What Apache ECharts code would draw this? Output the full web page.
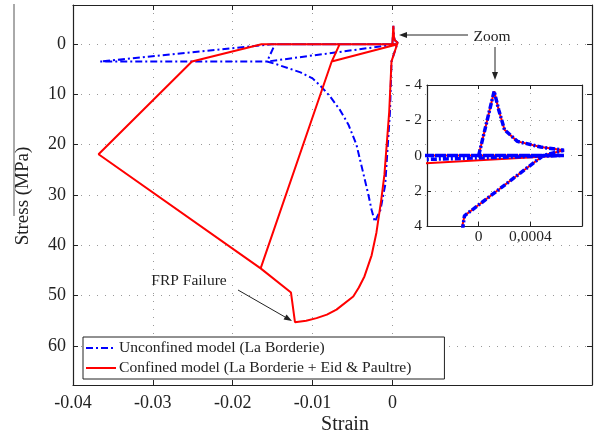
<!DOCTYPE html>
<html>
<head>
<meta charset="UTF-8">
<title>stress_strain</title>
<script src="https://cdn.jsdelivr.net/npm/echarts@6/dist/echarts.min.js"></script>
<style>
  html, body { margin: 0; padding: 0; background: #fff; }
  #main { width: 596px; height: 439px; }
</style>
</head>
<body>
<div id="main"></div>
<script>
// values (strain, stress in MPa, compression positive / downward)
var unconfinedStrain = [0, 0.00012, 0.000155, 0.0002, 0.0003, 0.00048, 0.00066, 0.0005, -0.00011, -0.0003, -0.0009, -0.0015, -0.0022,
  -0.0026, -0.003, -0.0037, -0.0045, -0.0055, -0.0066, -0.0078, -0.009, -0.01, -0.0115, -0.013, -0.0145, -0.0157,
  -0.0147, 0.00066, -0.0157, -0.0366, -0.0151, 0.00066];
var unconfinedStress = [0, -3.65, -2.6, -1.46, -0.8, -0.48, -0.3, 0, 3.42, 13.5, 28, 33, 35.3,
  33, 30, 25.3, 20, 16, 13, 10.4, 8.3, 6.8, 5.6, 4.8, 4.0, 3.45,
  0, 0, 3.45, 3.45, 0, 0];

var confinedStrain = [0, 0.00012, 0.000155, 0.0002, 0.0003, 0.00048, 0.00066, 0.0005, -0.00011, -0.0004, -0.001, -0.0014, -0.002,
  -0.0026, -0.0035, -0.0042, -0.0049, -0.007, -0.0082, -0.0095, -0.0108, -0.0122, -0.0127, -0.0165,
  -0.0076, -0.0066, 0.00066, -0.0076, -0.0165, -0.0368, -0.0251, -0.0164, 0.00066];
var confinedStress = [0, -3.65, -2.6, -1.46, -0.8, -0.48, -0.3, 0, 3.42, 13.5, 26, 31, 37.5,
  42, 46.2, 48.4, 50.2, 52.8, 53.8, 54.5, 55.0, 55.3, 49.4, 44.6,
  3.45, 0, 0, 3.45, 44.6, 21.9, 3.45, 0, 0];

var xTicks = [-0.04, -0.03, -0.02, -0.01, 0];
var yTicks = [0, 10, 20, 30, 40, 50, 60];
var insetXTicks = [0, 0.0004];
var insetXLabels = ['0', '0,0004'];
var insetYTicks = [-4, -2, 0, 2, 4];

var names = ['Unconfined model (La Borderie)', 'Confined model (La Borderie + Eid & Paultre)'];

function pairs(xs, ys) {
  return xs.map(function (x, i) { return [x, ys[i]]; });
}
var unconfined = pairs(unconfinedStrain, unconfinedStress);
var confined = pairs(confinedStrain, confinedStress);

var serif = '"Liberation Serif", "DejaVu Serif", serif';
var ink = '#222';
var dots = { color: '#999', type: [1, 7], width: 1 };

function tickAxis(extra) {
  var base = {
    axisLine: { onZero: false, lineStyle: { color: ink, width: 1.2 } },
    axisTick: { inside: true, length: 5, lineStyle: { color: ink } },
    axisLabel: { show: false },
    splitLine: { show: false }
  };
  return Object.assign(base, extra);
}

var myChart = echarts.init(document.getElementById('main'));

function arrow(x1, y1, x2, y2) {
  var a = Math.atan2(y2 - y1, x2 - x1), L = 8, W = 3;
  var bx = x2 - L * Math.cos(a), by = y2 - L * Math.sin(a);
  return [
    { type: 'line', z: 20, shape: { x1: x1, y1: y1, x2: bx, y2: by }, style: { stroke: ink, lineWidth: 1 } },
    { type: 'polygon', z: 20, shape: { points: [[x2, y2],
        [bx + W * Math.sin(a), by - W * Math.cos(a)],
        [bx - W * Math.sin(a), by + W * Math.cos(a)]] }, style: { fill: ink } }
  ];
}

var option = {
  animation: false,
  backgroundColor: '#fff',
  textStyle: { fontFamily: serif },
  grid: [
    { left: 73, top: 5, width: 519, height: 380, show: false },
    { left: 427, top: 85, width: 155, height: 141, show: true, backgroundColor: '#fff', borderWidth: 0, z: 1 }
  ],
  legend: {
    data: names,
    orient: 'vertical',
    left: 83, top: 337,
    padding: [3, 33, 3, 2],
    itemGap: 4,
    itemWidth: 30, itemHeight: 16,
    itemStyle: { opacity: 0 },
    backgroundColor: '#fff',
    borderColor: ink, borderWidth: 1, borderRadius: 0,
    textStyle: { fontFamily: serif, fontSize: 15.6, color: ink, padding: [0, 0, 0, -2] },
    z: 10
  },
  xAxis: [
    tickAxis({
      type: 'value', gridIndex: 0, position: 'bottom', min: -0.04, max: 0.025,
      axisTick: { inside: true, length: 5, lineStyle: { color: ink }, customValues: xTicks },
      axisLabel: { show: true, customValues: xTicks, margin: 9, fontSize: 18, color: ink, fontFamily: serif,
        formatter: function (v) { return v === 0 ? '0' : v.toFixed(2); } },
      splitLine: { show: true, lineStyle: dots }
    }),
    tickAxis({
      type: 'value', gridIndex: 0, position: 'top', min: -0.04, max: 0.025,
      axisTick: { inside: true, length: 5, lineStyle: { color: ink }, customValues: xTicks }
    }),
    tickAxis({
      type: 'value', gridIndex: 1, position: 'bottom', min: -0.0004, max: 0.0008, z: 2,
      axisTick: { inside: true, length: 4, lineStyle: { color: ink }, customValues: insetXTicks },
      axisLabel: { show: true, customValues: insetXTicks, margin: 3, fontSize: 15.5, color: ink, fontFamily: serif,
        formatter: function (v) { return v === 0 ? insetXLabels[0] : insetXLabels[1]; } },
      splitLine: { show: true, lineStyle: dots }
    }),
    tickAxis({
      type: 'value', gridIndex: 1, position: 'top', min: -0.0004, max: 0.0008, z: 2,
      axisTick: { inside: true, length: 4, lineStyle: { color: ink }, customValues: insetXTicks }
    })
  ],
  yAxis: [
    tickAxis({
      type: 'value', gridIndex: 0, position: 'left', inverse: true, min: -7.8, max: 67.8,
      axisTick: { inside: true, length: 5, lineStyle: { color: ink }, customValues: yTicks },
      axisLabel: { show: true, customValues: yTicks, margin: 7, fontSize: 18, color: ink, fontFamily: serif },
      splitLine: { show: true, lineStyle: dots }
    }),
    tickAxis({
      type: 'value', gridIndex: 0, position: 'right', inverse: true, min: -7.8, max: 67.8,
      axisTick: { inside: true, length: 5, lineStyle: { color: ink }, customValues: yTicks }
    }),
    tickAxis({
      type: 'value', gridIndex: 1, position: 'left', inverse: true, min: -4, max: 4, z: 2,
      axisTick: { inside: true, length: 4, lineStyle: { color: ink }, customValues: insetYTicks },
      axisLabel: { show: true, customValues: insetYTicks, margin: 5, fontSize: 15.5, color: ink, fontFamily: serif,
        formatter: function (v) { return v < 0 ? '- ' + (-v) : String(v); } },
      splitLine: { show: true, lineStyle: dots }
    }),
    tickAxis({
      type: 'value', gridIndex: 1, position: 'right', inverse: true, min: -4, max: 4, z: 2,
      axisTick: { inside: true, length: 4, lineStyle: { color: ink }, customValues: insetYTicks }
    })
  ],
  series: [
    {
      name: names[0], type: 'line', xAxisIndex: 0, yAxisIndex: 0, data: unconfined,
      symbol: 'none', color: '#0000ff', z: 2,
      lineStyle: { color: '#0000ff', width: 2, type: [7, 3, 2, 3] }
    },
    {
      name: names[1], type: 'line', xAxisIndex: 0, yAxisIndex: 0, data: confined,
      symbol: 'none', color: '#ff0000', z: 3,
      lineStyle: { color: '#ff0000', width: 2 }
    },
    {
      name: 'inset confined', type: 'line', xAxisIndex: 2, yAxisIndex: 2, data: confined,
      symbol: 'none', z: 4, clip: true,
      lineStyle: { color: '#ff0000', width: 2 }
    },
    {
      name: 'inset unconfined', type: 'line', xAxisIndex: 2, yAxisIndex: 2, data: unconfined,
      symbol: 'none', z: 5, clip: true,
      lineStyle: { color: '#0000ff', width: 3.5, type: [6, 2, 2, 2] }
    }
  ],
  graphic: [
    { type: 'line', shape: { x1: 14, y1: 4, x2: 14, y2: 216 }, style: { stroke: '#555', lineWidth: 1 } },
    { type: 'text', x: 23, y: 196, rotation: Math.PI / 2,
      style: { text: 'Stress (MPa)', fontSize: 19, fontFamily: serif, fill: ink,
        align: 'center', verticalAlign: 'middle', textAlign: 'center', textVerticalAlign: 'middle' } },
    { type: 'text', x: 345, y: 425,
      style: { text: 'Strain', fontSize: 20, fontFamily: serif, fill: ink,
        align: 'center', verticalAlign: 'middle', textAlign: 'center', textVerticalAlign: 'middle' } },
    { type: 'text', x: 492, y: 37, z: 20,
      style: { text: 'Zoom', fontSize: 15.5, fontFamily: serif, fill: ink,
        align: 'center', verticalAlign: 'middle', textAlign: 'center', textVerticalAlign: 'middle' } },
    { type: 'text', x: 189, y: 281, z: 20,
      style: { text: 'FRP Failure', fontSize: 15.5, fontFamily: serif, fill: ink,
        align: 'center', verticalAlign: 'middle', textAlign: 'center', textVerticalAlign: 'middle' } }
  ].concat(arrow(468, 35, 399, 35), arrow(495, 47, 495, 80), arrow(238, 290, 292, 321))
};

myChart.setOption(option);
</script>
</body>
</html>
